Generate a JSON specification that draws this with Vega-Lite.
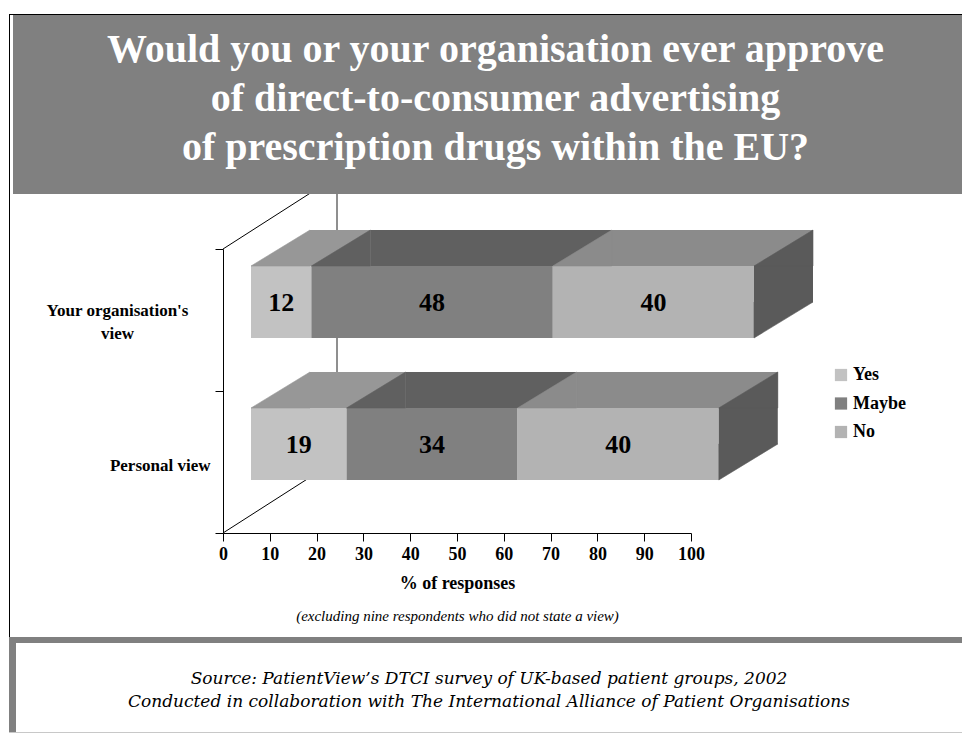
{
  "$schema": "https://vega.github.io/schema/vega-lite/v6.json",
  "background": "white",
  "padding": {"left": 9, "top": 14, "right": 0, "bottom": 0},
  "spacing": 0,
  "config": {"view": {"stroke": null}, "font": "Liberation Serif"},
  "datasets": {
    "survey": [
      {"view": "Your organisation's view", "answer": "Yes", "value": 12},
      {"view": "Your organisation's view", "answer": "Maybe", "value": 48},
      {"view": "Your organisation's view", "answer": "No", "value": 40},
      {"view": "Personal view", "answer": "Yes", "value": 19},
      {"view": "Personal view", "answer": "Maybe", "value": 34},
      {"view": "Personal view", "answer": "No", "value": 40}
    ],
    "blank": [{}]
  },
  "vconcat": [
    {"data": {"name": "blank"}, "width": 953, "height": 1, "view": {"fill": "#000000", "stroke": null}, "mark": {"type": "point", "size": 0, "opacity": 0, "strokeWidth": 0}},
    {
      "spacing": 3,
      "hconcat": [
        {"data": {"name": "blank"}, "width": 1, "height": 622, "view": {"fill": "#000000", "stroke": null}, "mark": {"type": "point", "size": 0, "opacity": 0, "strokeWidth": 0}},
        {
          "spacing": 0,
          "bounds": "flush",
          "vconcat": [
            {
              "data": {"name": "blank"}, "width": 949, "height": 179,
              "view": {"fill": "#808080", "stroke": null},
              "mark": {"type": "text", "text": ["Would you or your organisation ever approve", "of direct-to-consumer advertising", "of prescription drugs within the EU?"], "font": "Liberation Serif", "fontWeight": "bold", "fontSize": 40, "lineHeight": 49, "color": "white", "align": "center", "baseline": "middle", "dx": 8, "dy": -54.5}
            },
            {
              "width": 949, "height": 339,
              "view": {"stroke": null},
              "layer": [
                {
                  "data": {"name": "blank"},
                  "mark": {"type": "rule", "color": "black", "strokeWidth": 1, "clip": true, "x2Offset": 114, "y2Offset": -73},
                  "encoding": {
                    "x": {"datum": 0, "type": "quantitative", "scale": {"domain": [0, 100], "range": [210, 678], "nice": false, "zero": false},
                      "axis": {"orient": "bottom", "values": [0, 10, 20, 30, 40, 50, 60, 70, 80, 90, 100], "title": "% of responses", "titleFont": "Liberation Serif", "titleFontWeight": "bold", "titleFontSize": 18, "titleColor": "black", "titlePadding": 11, "labelFont": "Liberation Serif", "labelFontWeight": "bold", "labelFontSize": 18, "labelColor": "black", "labelPadding": 4, "tickSize": 8, "tickColor": "black", "domainColor": "black", "grid": false, "labelFlush": false, "labelOverlap": false, "labelBound": false}},
                    "x2": {"datum": 0},
                    "y": {"datum": 1, "type": "quantitative", "scale": {"domain": [0, 1], "range": [339, 55], "nice": false, "zero": false}, "axis": null},
                    "y2": {"datum": 1}
                  }
                },
                {
                  "data": {"name": "blank"},
                  "mark": {"type": "rule", "color": "#6a6a6a", "strokeWidth": 1.5, "clip": true, "xOffset": 114, "yOffset": -73, "y2Offset": -73},
                  "encoding": {
                    "x": {"datum": 0, "type": "quantitative", "scale": {"domain": [0, 100], "range": [210, 678], "nice": false, "zero": false},
                      "axis": {"orient": "bottom", "labels": false, "ticks": false, "domain": false, "grid": false, "title": "(excluding nine respondents who did not state a view)", "titleFont": "Liberation Serif", "titleFontStyle": "italic", "titleFontWeight": "normal", "titleFontSize": 15, "titleColor": "black", "titleBaseline": "middle", "titleY": 82}},
                    "y": {"datum": 1, "type": "quantitative", "scale": {"domain": [0, 1], "range": [339, 55], "nice": false, "zero": false}, "axis": null},
                    "y2": {"datum": 0}
                  }
                },
                {
                  "data": {"name": "blank"},
                  "mark": {"type": "rule", "color": "black", "strokeWidth": 1, "clip": true, "x2Offset": 114, "y2Offset": -73},
                  "encoding": {
                    "x": {"datum": 0, "type": "quantitative", "scale": {"domain": [0, 100], "range": [210, 678], "nice": false, "zero": false}, "axis": null},
                    "x2": {"datum": 0},
                    "y": {"datum": 0, "type": "quantitative", "scale": {"domain": [0, 1], "range": [339, 55], "nice": false, "zero": false}, "axis": null},
                    "y2": {"datum": 0}
                  }
                },
                {
                  "data": {"name": "survey"},
                  "transform": [
                    {"window": [{"op": "row_number", "as": "rank"}], "groupby": ["view"]},
                    {"stack": "value", "groupby": ["view"], "sort": [{"field": "rank", "order": "ascending"}], "as": ["x0", "x1"]}
                  ],
                  "mark": {"type": "bar", "height": 72, "yOffset": -18},
                  "encoding": {
                    "y": {"field": "view", "type": "nominal", "scale": {"type": "band", "domain": ["Your organisation's view", "Personal view"], "range": [55, 339], "paddingInner": 0, "paddingOuter": 0},
                      "axis": {"orient": "left", "offset": -210, "title": null, "tickBand": "extent", "tickSize": 8, "tickColor": "black", "domainColor": "black", "grid": false, "labelFont": "Liberation Serif", "labelFontWeight": "bold", "labelFontSize": 17, "labelColor": "black", "labelBaseline": "middle", "labelLineHeight": 23, "labelOverlap": false, "labelBound": false,
                        "labelExpr": "datum.value == \"Your organisation's view\" ? [\"Your organisation's\", \"view\"] : datum.label",
                        "labelAlign": {"condition": {"test": "datum.value == \"Your organisation's view\"", "value": "center"}, "value": "right"},
                        "labelPadding": {"condition": {"test": "datum.value == \"Your organisation's view\"", "value": 98}, "value": 5},
                        "labelOffset": {"condition": {"test": "datum.value == \"Your organisation's view\"", "value": -10}, "value": 3}}},
                    "x": {"field": "x0", "type": "quantitative", "scale": {"domain": [0, 100], "range": [238, 741], "nice": false, "zero": false}, "axis": null},
                    "x2": {"field": "x1"},
                    "color": {"field": "answer", "type": "nominal", "scale": {"domain": ["Yes", "Maybe", "No"], "range": ["#c2c2c2", "#808080", "#b3b3b3"]},
                      "legend": {"title": null, "orient": "none", "legendX": 819, "legendY": 172, "symbolType": "square", "symbolSize": 150, "symbolStrokeWidth": 0, "labelFont": "Liberation Serif", "labelFontWeight": "bold", "labelFontSize": 18, "labelColor": "black", "rowPadding": 10.5, "labelOffset": 3}}
                  }
                },
                {
                  "data": {"name": "survey"},
                  "transform": [
                    {"window": [{"op": "row_number", "as": "rank"}], "groupby": ["view"]},
                    {"stack": "value", "groupby": ["view"], "sort": [{"field": "rank", "order": "ascending"}], "as": ["x0", "x1"]}
                  ],
                  "mark": {"type": "bar", "height": 36, "yOffset": -72, "xOffset": 59, "x2Offset": 59},
                  "encoding": {
                    "y": {"field": "view", "type": "nominal", "scale": {"type": "band", "domain": ["Your organisation's view", "Personal view"], "range": [55, 339], "paddingInner": 0, "paddingOuter": 0}, "axis": null},
                    "x": {"field": "x0", "type": "quantitative", "scale": {"domain": [0, 100], "range": [238, 741], "nice": false, "zero": false}, "axis": null},
                    "x2": {"field": "x1"},
                    "color": {"field": "answer", "type": "nominal", "scale": {"domain": ["Yes", "Maybe", "No"], "range": ["#979797", "#606060", "#8b8b8b"]}, "legend": null}
                  }
                },
                {
                  "data": {"name": "survey"},
                  "transform": [
                    {"window": [{"op": "row_number", "as": "rank"}], "groupby": ["view"]},
                    {"stack": "value", "groupby": ["view"], "sort": [{"field": "rank", "order": "ascending"}], "as": ["x0", "x1"]}
                  ],
                  "mark": {"type": "point", "shape": "M -1 0.61 L 1 0.61 L 1 -0.61 Z", "size": 3481, "filled": true, "opacity": 1, "strokeWidth": 0.6, "xOffset": 29.5, "yOffset": -72},
                  "encoding": {
                    "y": {"field": "view", "type": "nominal", "scale": {"type": "band", "domain": ["Your organisation's view", "Personal view"], "range": [55, 339], "paddingInner": 0, "paddingOuter": 0}, "axis": null},
                    "x": {"field": "x0", "type": "quantitative", "stack": null, "scale": {"domain": [0, 100], "range": [238, 741], "nice": false, "zero": false}, "axis": null},
                    "color": {"field": "answer", "type": "nominal", "scale": {"domain": ["Yes", "Maybe", "No"], "range": ["#979797", "#606060", "#8b8b8b"]}, "legend": null},
                    "stroke": {"field": "answer", "type": "nominal", "scale": {"domain": ["Yes", "Maybe", "No"], "range": ["#979797", "#606060", "#8b8b8b"]}, "legend": null}
                  }
                },
                {
                  "data": {"name": "survey"},
                  "transform": [
                    {"window": [{"op": "row_number", "as": "rank"}], "groupby": ["view"]},
                    {"stack": "value", "groupby": ["view"], "sort": [{"field": "rank", "order": "ascending"}], "as": ["x0", "x1"]},
                    {"filter": "datum.answer == 'No'"}
                  ],
                  "mark": {"type": "bar", "height": 36, "yOffset": -36, "x2Offset": 59, "color": "#5a5a5a"},
                  "encoding": {
                    "y": {"field": "view", "type": "nominal", "scale": {"type": "band", "domain": ["Your organisation's view", "Personal view"], "range": [55, 339], "paddingInner": 0, "paddingOuter": 0}, "axis": null},
                    "x": {"field": "x1", "type": "quantitative", "scale": {"domain": [0, 100], "range": [238, 741], "nice": false, "zero": false}, "axis": null},
                    "x2": {"field": "x1"}
                  }
                },
                {
                  "data": {"name": "survey"},
                  "transform": [
                    {"window": [{"op": "row_number", "as": "rank"}], "groupby": ["view"]},
                    {"stack": "value", "groupby": ["view"], "sort": [{"field": "rank", "order": "ascending"}], "as": ["x0", "x1"]},
                    {"filter": "datum.answer == 'No'"}
                  ],
                  "mark": {"type": "point", "shape": "M -1 0.61 L 1 0.61 L 1 -0.61 Z", "size": 3481, "filled": true, "opacity": 1, "color": "#5a5a5a", "stroke": "#5a5a5a", "strokeWidth": 0.6, "xOffset": 29.5, "yOffset": -72},
                  "encoding": {
                    "y": {"field": "view", "type": "nominal", "scale": {"type": "band", "domain": ["Your organisation's view", "Personal view"], "range": [55, 339], "paddingInner": 0, "paddingOuter": 0}, "axis": null},
                    "x": {"field": "x1", "type": "quantitative", "stack": null, "scale": {"domain": [0, 100], "range": [238, 741], "nice": false, "zero": false}, "axis": null}
                  }
                },
                {
                  "data": {"name": "survey"},
                  "transform": [
                    {"window": [{"op": "row_number", "as": "rank"}], "groupby": ["view"]},
                    {"stack": "value", "groupby": ["view"], "sort": [{"field": "rank", "order": "ascending"}], "as": ["x0", "x1"]},
                    {"filter": "datum.answer == 'No'"}
                  ],
                  "mark": {"type": "point", "shape": "M -1 -0.61 L 1 -0.61 L -1 0.61 Z", "size": 3481, "filled": true, "opacity": 1, "color": "#5a5a5a", "stroke": "#5a5a5a", "strokeWidth": 0.6, "xOffset": 29.5, "yOffset": 0},
                  "encoding": {
                    "y": {"field": "view", "type": "nominal", "scale": {"type": "band", "domain": ["Your organisation's view", "Personal view"], "range": [55, 339], "paddingInner": 0, "paddingOuter": 0}, "axis": null},
                    "x": {"field": "x1", "type": "quantitative", "stack": null, "scale": {"domain": [0, 100], "range": [238, 741], "nice": false, "zero": false}, "axis": null}
                  }
                },
                {
                  "data": {"name": "survey"},
                  "transform": [
                    {"window": [{"op": "row_number", "as": "rank"}], "groupby": ["view"]},
                    {"stack": "value", "groupby": ["view"], "sort": [{"field": "rank", "order": "ascending"}], "as": ["x0", "x1"]},
                    {"fold": ["x0", "x1"], "as": ["edge", "pos"]},
                    {"aggregate": [{"op": "mean", "field": "pos", "as": "mid"}, {"op": "max", "field": "value", "as": "label"}], "groupby": ["view", "answer"]}
                  ],
                  "mark": {"type": "text", "font": "Liberation Serif", "fontWeight": "bold", "fontSize": 26, "color": "black", "align": "center", "baseline": "middle", "yOffset": -17},
                  "encoding": {
                    "y": {"field": "view", "type": "nominal", "scale": {"type": "band", "domain": ["Your organisation's view", "Personal view"], "range": [55, 339], "paddingInner": 0, "paddingOuter": 0}, "axis": null},
                    "x": {"field": "mid", "type": "quantitative", "stack": null, "scale": {"domain": [0, 100], "range": [238, 741], "nice": false, "zero": false}, "axis": null},
                    "text": {"field": "label", "type": "quantitative"}
                  }
                }
              ],
              "resolve": {"scale": {"x": "independent", "y": "independent", "color": "independent", "stroke": "independent"}}
            }
          ]
        }
      ]
    },
    {"data": {"name": "blank"}, "width": 953, "height": 6, "view": {"fill": "#808080", "stroke": null}, "mark": {"type": "point", "size": 0, "opacity": 0, "strokeWidth": 0}},
    {
      "spacing": 0,
      "hconcat": [
        {"data": {"name": "blank"}, "width": 7, "height": 89, "view": {"fill": "#808080", "stroke": null}, "mark": {"type": "point", "size": 0, "opacity": 0, "strokeWidth": 0}},
        {
          "data": {"name": "blank"}, "width": 946, "height": 89,
          "view": {"fill": "white", "stroke": null},
          "mark": {"type": "text", "text": ["Source: PatientView’s DTCI survey of UK-based patient groups, 2002", "Conducted in collaboration with The International Alliance of Patient Organisations"], "font": "DejaVu Serif", "fontStyle": "italic", "fontSize": 17, "lineHeight": 23, "color": "black", "align": "center", "baseline": "middle", "dy": -8.5}
        }
      ]
    },
    {"data": {"name": "blank"}, "width": 953, "height": 1, "view": {"fill": "#c8c8c8", "stroke": null}, "mark": {"type": "point", "size": 0, "opacity": 0, "strokeWidth": 0}}
  ]
}
